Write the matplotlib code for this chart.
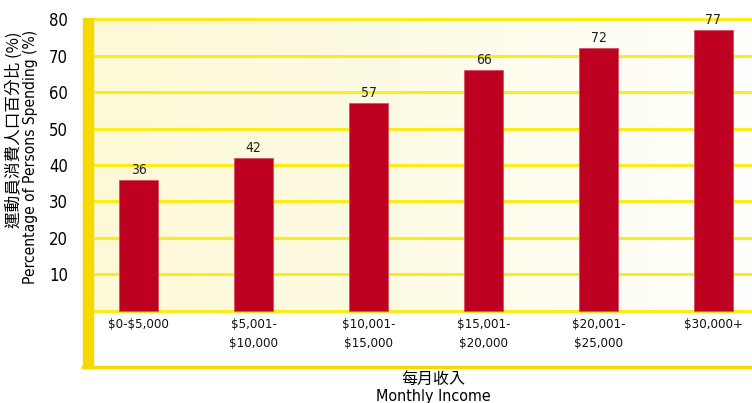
import numpy as np
import matplotlib
matplotlib.use("Agg")
from matplotlib import pyplot as plt
from matplotlib.colors import LinearSegmentedColormap
from matplotlib.patches import Rectangle

# monthly income groups and share of persons spending (%)
income_groups = ["$0-$5,000", "$5,001-\n$10,000", "$10,001-\n$15,000",
                 "$15,001-\n$20,000", "$20,001-\n$25,000", "$30,000+"]
pct_spending = [36, 42, 57, 66, 72, 77]
y_ticks = [10, 20, 30, 40, 50, 60, 70, 80]

plt.rcParams['text.parse_math'] = False
plt.rcParams['font.family'] = ['DejaVu Sans', 'Noto Sans CJK TC']
plt.rcParams['font.stretch'] = 'condensed'
CJK = ['Noto Sans CJK TC', 'DejaVu Sans']

W, H = 752, 403
fig = plt.figure(figsize=(W / 100, H / 100), dpi=100)
ax = fig.add_axes([93 / W, 37 / H, 1 - 93 / W, (366 - 18) / H])

x = np.arange(len(income_groups))
xlo, xhi = -0.396, 5.335
ylo, yhi = -15.1, 80.3
ax.set_xlim(xlo, xhi)
ax.set_ylim(ylo, yhi)

# pale cream wash behind the bars, fading to white on the right
cmap = LinearSegmentedColormap.from_list("wash", ["#fdf9d6", "#fefbe6", "#fffffd"])
grad = np.linspace(0, 1, 256).reshape(1, -1)
ax.imshow(grad, cmap=cmap, aspect="auto", extent=[xlo, xhi, 0, yhi], zorder=0)

for t in [0] + y_ticks:
    ax.axhline(t, color="#fcec1c", lw=2.2, zorder=1)

bars = ax.bar(x, pct_spending, width=0.34, color="#be0021",
              edgecolor="#d8506a", linewidth=0.6, zorder=3)
for xi, v in zip(x, pct_spending):
    ax.text(xi, v + 0.8, str(v), ha="center", va="bottom", fontsize=10,
            color="#222222", zorder=4)

for xi, lab in zip(x, income_groups):
    ax.text(xi, -2.0, lab, ha="center", va="top", fontsize=9.5,
            color="#111111", linespacing=1.55)

ax.set_xticks([])
ax.set_yticks(y_ticks)
ax.set_yticklabels([str(t) for t in y_ticks], fontsize=12)
ax.tick_params(axis="y", length=0, pad=18)
for s in ax.spines.values():
    s.set_visible(False)

# thick yellow bar on the left and base line at the bottom
fig.patches.append(Rectangle((83 / W, 35 / H), 10 / W, (385 - 35) / H,
                             transform=fig.transFigure, color="#f7d900", zorder=5))
fig.add_artist(plt.Line2D([83 / W, 1], [36 / H, 36 / H], transform=fig.transFigure,
                          color="#f7d900", lw=2.5, zorder=5))

fig.text(14 / W, 1 - 32 / H, "運動員消費人口百分比 (%)", rotation=90,
         ha="center", va="top", fontsize=12, family=CJK)
fig.text(31 / W, 1 - 30 / H, "Percentage of Persons Spending (%)", rotation=90,
         ha="center", va="top", fontsize=11.2)

fig.text(433 / W, 1 - 379 / H, "每月收入", ha="center", va="center", fontsize=11.5, family=CJK)
fig.text(433 / W, 1 - 389 / H, "Monthly Income", ha="center", va="top", fontsize=11.5)

fig.savefig("out.png", dpi=100)
